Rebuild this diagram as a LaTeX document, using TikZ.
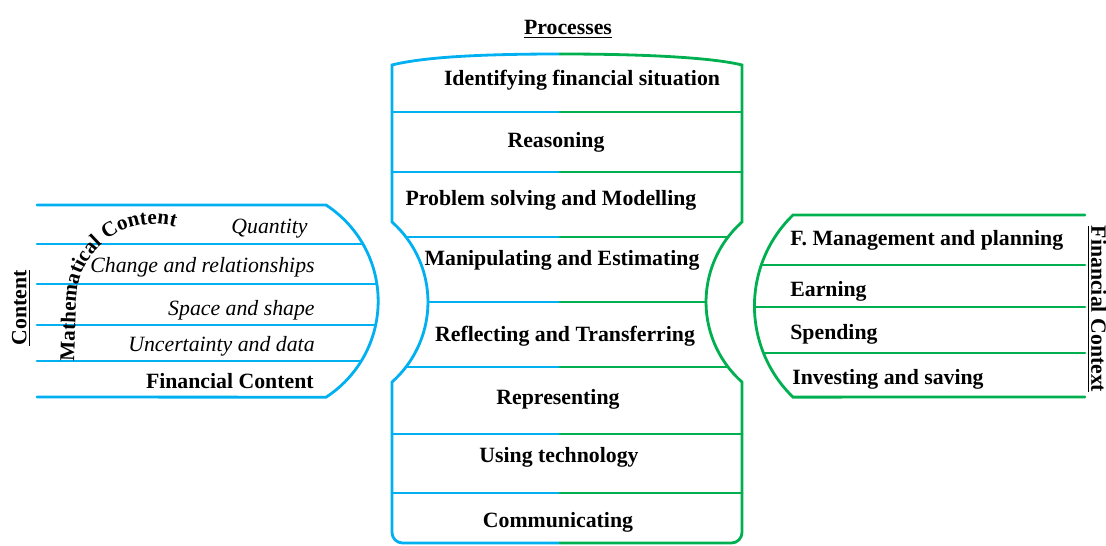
\documentclass[tikz,border=0pt]{standalone}
\usepackage{fontspec}
\setmainfont{Liberation Serif}
\usepackage{tikz}
\usetikzlibrary{decorations.text}
\definecolor{contblue}{RGB}{0,176,240}
\definecolor{contgreen}{RGB}{0,176,80}

\begin{document}
\begin{tikzpicture}[
  x=0.02cm, y=0.02cm,
  font=\fontsize{12.4}{14}\selectfont,
  band/.style={line width=1.6pt, line cap=round},
  blueband/.style={band, draw=contblue},
  greenband/.style={band, draw=contgreen},
  item/.style={font=\fontsize{12.4}{14}\selectfont\bfseries, inner sep=0pt},
  mitem/.style={font=\fontsize{12.4}{14}\selectfont\itshape, inner sep=0pt, anchor=base east}
]
\useasboundingbox (0,0) rectangle (1106,545);

% content
\draw[blueband] (37,340) -- (326,340) arc[start angle=57, end angle=-57, radius=114.6] -- (37,148);
\foreach \y/\x in {301/362.8, 261/376.7, 220/375.5, 184/361}
  \draw[blueband] (37,\y) -- (\x,\y);
\node[mitem] (qty) at (308,311.5) {Quantity};
\node[mitem] (chg) at (315,272.5) {Change and relationships};
\node[mitem] (spc) at (315,230) {Space and shape};
\node[mitem] (unc) at (315,194) {Uncertainty and data};
\node[item, anchor=base east] (fcont) at (314,156.5) {Financial Content};
\node[item, rotate=90] (cont) at (21,237) {\underline{Content}};
\path[decorate, decoration={text along path, text align=left,
  text={|\fontsize{12}{14}\selectfont\bfseries|Mathematical Content}}]
  (74,184) -- (76,243) arc[start angle=180, end angle=40, radius=78];

% processes
\node[item, anchor=base] (proc) at (568,510.5) {\underline{Processes}};
\draw[blueband] (560,491) .. controls (470,491) and (420,487) .. (392,480) -- (392,323)
  arc[start angle=48.4, end angle=-48.4, radius=107] [rounded corners=6pt] -- (392,2) -- (560,2);
\draw[greenband] (560,491) .. controls (650,491) and (714,487) .. (742,480) -- (742,323)
  arc[start angle=131.6, end angle=228.4, radius=107] [rounded corners=6pt] -- (742,2) -- (560,2);
\foreach \y/\xl/\xr in {433/392/742, 373/392/742, 308/406/728, 243/428/706, 178/406/728, 111/392/742, 52/392/742} {
  \draw[blueband] (\xl,\y) -- (560,\y);
  \draw[greenband] (560,\y) -- (\xr,\y);
}
\node[item, anchor=base] (ident) at (582,459) {Identifying financial situation};
\node[item, anchor=base] (reas) at (556,397) {Reasoning};
\node[item, anchor=base] (probl) at (551,339) {Problem solving and Modelling};
\node[item, anchor=base] (manip) at (562,279) {Manipulating and Estimating};
\node[item, anchor=base] (refl) at (565,204) {Reflecting and Transferring};
\node[item, anchor=base] (repr) at (558,140.5) {Representing};
\node[item, anchor=base] (tech) at (559,82.5) {Using technology};
\node[item, anchor=base] (comm) at (558,17.5) {Communicating};

% financial context
\draw[greenband] (1085,330) -- (793,330) arc[start angle=134.1, end angle=225.9, radius=126.8] -- (1085,148);
\foreach \y/\x in {280/761.3, 238/754.5, 192/763.5}
  \draw[greenband] (\x,\y) -- (1085,\y);
\node[item, anchor=base west] (mgmt) at (790,299) {F. Management and planning};
\node[item, anchor=base west] (earn) at (790,249) {Earning};
\node[item, anchor=base west] (spend) at (790,206) {Spending};
\node[item, anchor=base west] (invest) at (792,160.5) {Investing and saving};
\node[item, rotate=-90] (fctx) at (1097,236) {\underline{Financial Context}};
\end{tikzpicture}
\end{document}
